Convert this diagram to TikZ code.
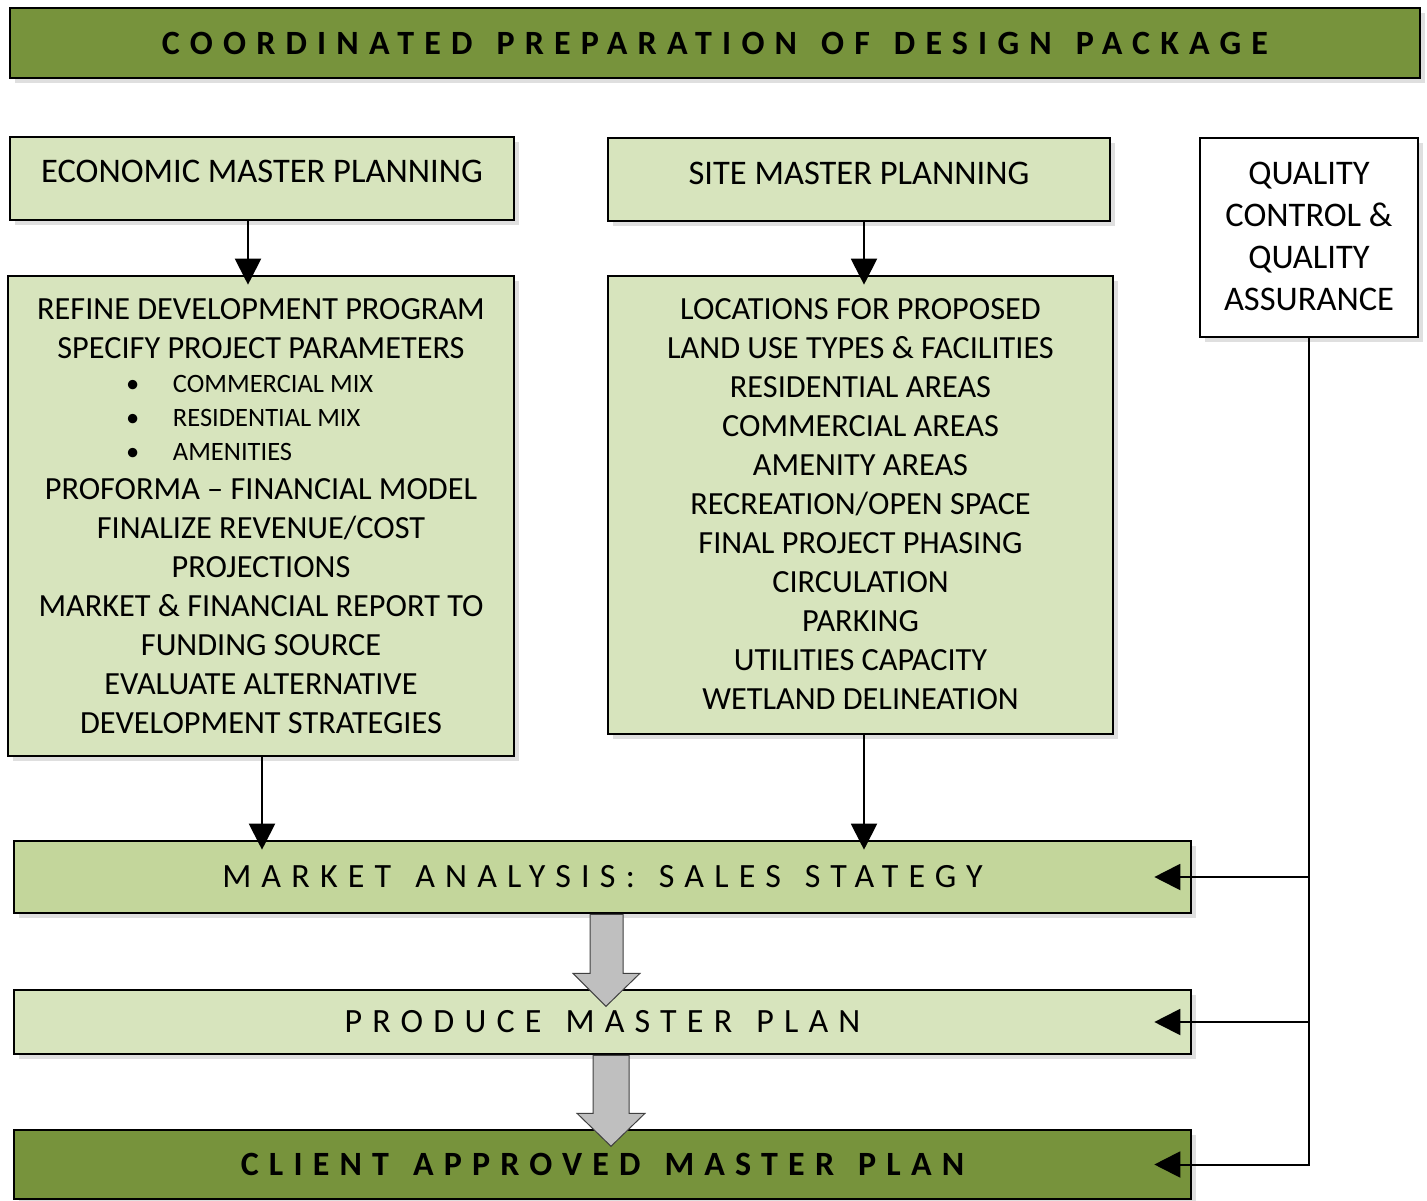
\documentclass[tikz,border=0pt]{standalone}
\usepackage{fontspec}
\setmainfont{Carlito}
\usetikzlibrary{arrows.meta,positioning,shadows}
\definecolor{oliveband}{HTML}{77933C}
\definecolor{sage}{HTML}{D7E4BD}
\definecolor{fern}{HTML}{C3D69B}
\newcommand{\bandfont}{\fontsize{34}{39}\selectfont\addfontfeature{LetterSpace=30}\spaceskip=24pt}
\newcommand{\bandboldfont}{\fontsize{34}{39}\selectfont\bfseries\addfontfeature{LetterSpace=30}\spaceskip=24pt}
\newcommand{\bulletline}[1]{\makebox[270pt][l]{\fontsize{26.5}{30}\selectfont\makebox[47pt][l]{\textbullet}#1}}
\tikzstyle{panel} = [rectangle, draw=black, line width=2.6pt, fill=sage, inner sep=0pt, drop shadow={shadow xshift=5pt, shadow yshift=-5pt, opacity=.25}]
\tikzstyle{words} = [align=center, inner sep=0pt, font=\fontsize{34.5}{39}\selectfont]
\tikzstyle{listing} = [words, font=\fontsize{32.3}{39}\selectfont]
\tikzstyle{conn} = [line width=2pt, -{Triangle[width=26pt,length=26pt]}]
\tikzstyle{blockarrow} = [fill=black!25, draw=black!75, line width=1pt, line join=miter]

\begin{document}
\begin{tikzpicture}[x=1pt,y=-1pt]
        \useasboundingbox (0,0) rectangle (1427,1201);
        \node[panel, fill=oliveband, minimum width=1410pt, minimum height=70pt, font=\bandboldfont] (title) at (715,43) {COORDINATED PREPARATION OF DESIGN PACKAGE};
        \node[panel, minimum width=504pt, minimum height=83pt] (econ) at (262,178.5) {};
        \node[panel, minimum width=502pt, minimum height=83pt] (site) at (859,179.5) {};
        \node[panel, fill=white, minimum width=218pt, minimum height=199pt] (qc) at (1309,237.5) {};
        \node[panel, minimum width=506pt, minimum height=480pt] (refine) at (261,516) {};
        \node[panel, minimum width=505pt, minimum height=458pt] (locs) at (860.5,505) {};
        \node[words, below=24pt of econ.north] (econtext) {ECONOMIC MASTER PLANNING};
        \node[words, below=25pt of site.north] (sitetext) {SITE MASTER PLANNING};
        \node[words, below=25pt of qc.north] (qctext) {QUALITY\\[3pt]CONTROL \&\\[3pt]QUALITY\\[3.5pt]ASSURANCE};
        \node[listing, below=23.5pt of refine.north] (refinetext) {REFINE DEVELOPMENT PROGRAM\\SPECIFY PROJECT PARAMETERS\\[-5pt]
            \bulletline{COMMERCIAL MIX}\\[-5pt]\bulletline{RESIDENTIAL MIX}\\[-5pt]\bulletline{AMENITIES}\\
            PROFORMA -- FINANCIAL MODEL\\FINALIZE REVENUE/COST\\PROJECTIONS\\MARKET \& FINANCIAL REPORT TO\\FUNDING SOURCE\\EVALUATE ALTERNATIVE\\DEVELOPMENT STRATEGIES};
        \node[listing, below=23.5pt of locs.north] (locstext) {LOCATIONS FOR PROPOSED\\LAND USE TYPES \& FACILITIES\\RESIDENTIAL AREAS\\COMMERCIAL AREAS\\AMENITY AREAS\\RECREATION/OPEN SPACE\\FINAL PROJECT PHASING\\CIRCULATION\\PARKING\\UTILITIES CAPACITY\\WETLAND DELINEATION};
        \node[panel, fill=fern, minimum width=1177pt, minimum height=72pt, font=\bandfont] (market) at (602.5,877) {MARKET ANALYSIS: SALES STATEGY};
        \node[panel, minimum width=1177pt, minimum height=64pt, font=\bandfont] (produce) at (602.5,1022) {PRODUCE MASTER PLAN};
        \node[panel, fill=oliveband, minimum width=1177pt, minimum height=69pt, font=\bandboldfont] (client) at (602.5,1164.5) {CLIENT APPROVED MASTER PLAN};
        \begin{scope}[conn, shorten >=-10pt]
            \draw (econ.south -| 248,0) -- (refine.north -| 248,0);
            \draw (site.south -| 864,0) -- (locs.north -| 864,0);
            \draw (refine.south -| 262,0) -- (market.north -| 262,0);
            \draw (locs.south -| 864,0) -- (market.north -| 864,0);
        \end{scope}
        \begin{scope}[conn]
            \draw (qc.south) |- ([xshift=-38pt]client.east);
            \draw (qc.south |- market.east) -- ([xshift=-38pt]market.east);
            \draw (qc.south |- produce.east) -- ([xshift=-38pt]produce.east);
        \end{scope}
        \draw[blockarrow] (market.south -| 590,0) -- ++(0,59) -- ++(-17,0) -- ++(33,33) -- ++(34,-33) -- ++(-17,0) -- ++(0,-59) -- cycle;
        \draw[blockarrow] (produce.south -| 593,0) -- ++(0,58) -- ++(-16,0) -- ++(34,33) -- ++(34,-33) -- ++(-16,0) -- ++(0,-58) -- cycle;
    \end{tikzpicture}
\end{document}
